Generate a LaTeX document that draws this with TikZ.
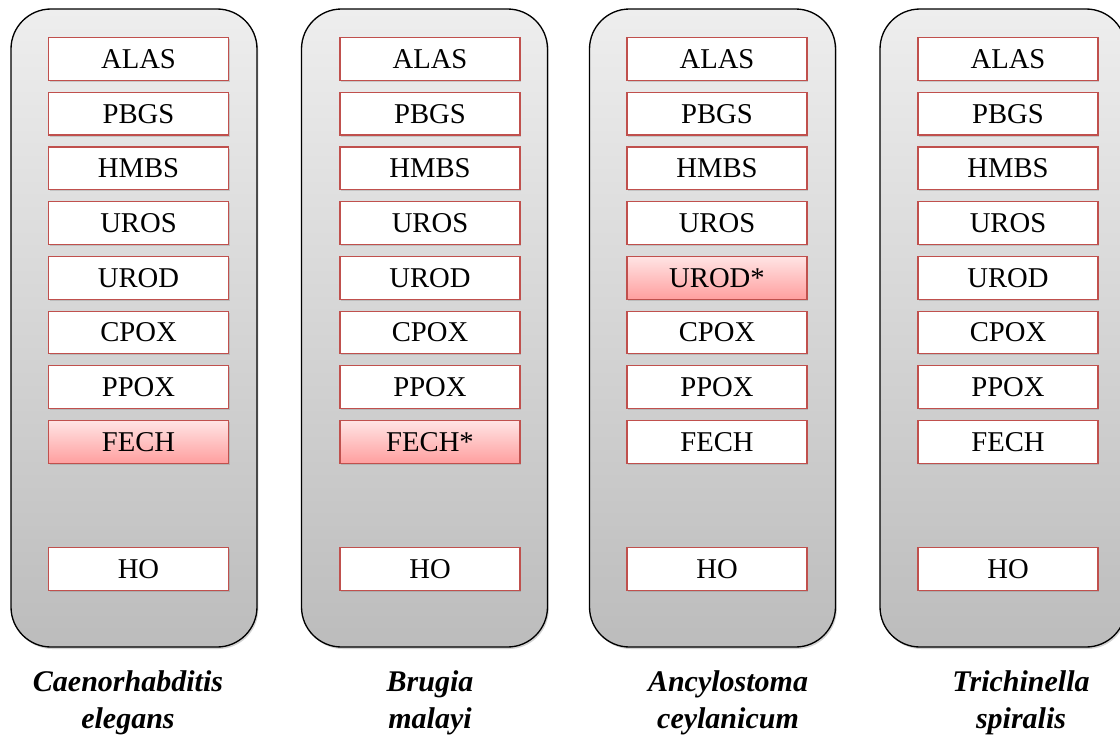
\documentclass[tikz,border=0pt]{standalone}
\usepackage{fontspec}
\setmainfont{Liberation Serif}
\usepackage{tikz}
\usetikzlibrary{positioning, shadows}
\definecolor{paneltop}{HTML}{EEEEEE}
\definecolor{panelbot}{HTML}{BCBCBC}
\definecolor{geneedge}{HTML}{C0504D}
\definecolor{hittop}{HTML}{FFE4E4}
\definecolor{hitbot}{HTML}{FF9F9F}
\tikzset{
    panel/.style={rectangle, draw=black, line width=1pt, rounded corners=30pt, top color=paneltop, bottom color=panelbot, minimum width=184.5pt, minimum height=478.5pt, drop shadow={shadow xshift=1pt, shadow yshift=-1.5pt, opacity=0.35}},
    gene/.style={rectangle, draw=geneedge, line width=0.9pt, fill=white, minimum width=135pt, minimum height=32pt, inner sep=0pt, font=\fontsize{21.5}{24}\selectfont, drop shadow={shadow xshift=1pt, shadow yshift=-1.2pt, opacity=0.3}},
    hit/.style={gene, top color=hittop, bottom color=hitbot},
    species/.style={align=center, font=\fontsize{22.5}{27.5}\selectfont\bfseries\itshape}
}
\begin{document}
\begin{tikzpicture}[x=0.75pt, y=-0.75pt]
    \useasboundingbox (0,0) rectangle (1120,736);
    \clip (0,0) rectangle (1120,736);
    \foreach \k/\px/\bx/\lx/\hl/\mk/\genus/\epithet in {
        1/134/138.5/128/8//Caenorhabditis/elegans,
        2/424.5/430/430/8/*/Brugia/malayi,
        3/712.5/717/728/5/*/Ancylostoma/ceylanicum,
        4/1003/1008/1021/0//Trichinella/spiralis}{
        \node [panel] (panel\k) at (\px,328) {};
        \foreach \g [count=\i] in {ALAS,PBGS,HMBS,UROS,UROD,CPOX,PPOX,FECH}{
            \ifnum\i=\hl
                \node [hit] (\g\k) at (\bx,{59+54.7*(\i-1)}) {\g\mk};
            \else
                \node [gene] (\g\k) at (\bx,{59+54.7*(\i-1)}) {\g};
            \fi
        }
        \node [gene] (HO\k) at (\bx,569) {HO};
        \node [species] (name\k) at (\lx,703) {\genus\\\epithet};
    }
\end{tikzpicture}
\end{document}
